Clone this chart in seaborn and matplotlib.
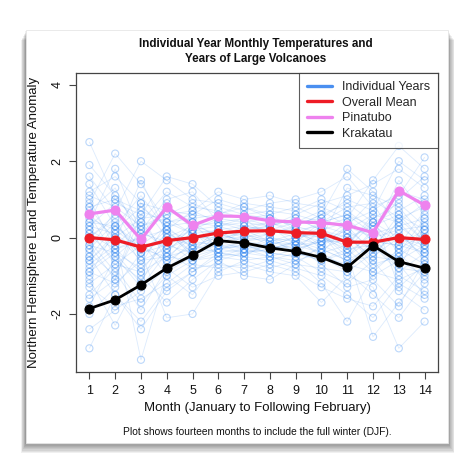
import numpy as np
import pandas as pd
import seaborn as sns
import matplotlib
matplotlib.use('Agg')
import matplotlib.pyplot as plt
import matplotlib.patches as mpatches
from matplotlib.lines import Line2D

months = list(range(1, 15))

# anomaly estimates for a sample of individual years (read roughly off the cloud)
individual_years = [
    [-0.9, -1.2, -0.6, -0.5, -0.3, -0.2, -0.3, -0.2, -0.4, -0.5, -0.7, -0.9, -1.1, -0.8],
    [0.5, 0.2, 0.8, 0.3, 0.4, 0.3, 0.4, 0.5, 0.3, 0.6, 0.9, 0.4, 0.7, 1.1],
    [-1.5, -0.8, -1.7, -1.0, -0.6, -0.5, -0.3, -0.4, -0.5, -0.9, -1.2, -0.6, -1.4, -1.9],
    [1.2, 1.6, 0.9, 0.7, 0.6, 0.5, 0.6, 0.7, 0.6, 0.9, 1.1, 1.4, 1.8, 1.3],
    [-0.3, 0.4, -0.5, 0.1, -0.2, 0.0, 0.1, -0.1, 0.0, -0.2, 0.3, -0.4, 0.2, -0.6],
    [-2.9, -1.5, -2.2, -1.3, -0.9, -0.4, -0.5, -0.6, -0.8, -1.0, -1.5, -2.1, -1.2, -1.6],
    [2.5, 1.0, 0.4, 1.2, 0.8, 0.7, 0.5, 0.6, 0.8, 0.5, 1.0, 0.7, 2.0, 1.5],
    [0.2, -0.7, -0.2, -0.6, 0.2, 0.1, -0.1, 0.0, -0.2, 0.1, -0.5, 0.2, -0.3, 0.1],
    [-1.1, -2.3, -1.0, -1.7, -1.1, -0.6, -0.4, -0.5, -0.7, -0.8, -0.9, -1.5, -2.1, -1.2],
    [0.9, 2.2, 1.4, 0.4, 0.5, 0.6, 0.8, 0.5, 0.4, 0.7, 0.3, 1.0, 0.5, 0.8],
    [-0.6, 0.0, -3.2, -0.9, -0.5, -0.3, -0.2, -0.3, -0.1, -0.4, -0.8, -0.2, -0.9, -0.4],
    [1.6, 0.7, 2.0, 1.5, 1.0, 0.9, 0.7, 0.9, 1.0, 1.2, 1.6, 0.8, 1.1, 2.1],
    [-2.0, -1.3, -0.4, -2.1, -2.0, -0.9, -0.6, -0.8, -0.6, -1.2, -2.2, -1.0, -0.6, -1.0],
    [0.0, 0.6, 0.2, -0.3, 0.0, 0.2, 0.3, 0.2, 0.1, 0.0, -0.2, 0.5, 0.9, 0.3],
    [-0.4, -1.0, 0.3, 0.5, 0.1, -0.1, 0.0, 0.1, 0.2, 0.3, 0.1, -0.7, -0.5, 0.0],
    [1.0, -0.3, -0.9, 0.0, 0.3, 0.4, 0.2, 0.3, 0.5, 0.2, -0.3, -0.2, 0.4, -0.3],
    [-1.8, -0.5, -1.3, -0.4, -0.8, -0.7, -0.8, -0.6, -0.4, -0.6, -0.4, -2.6, -1.7, -0.9],
    [0.7, 1.3, -0.1, 0.9, 0.2, 0.5, 0.4, 0.3, 0.6, 0.4, 0.6, 0.1, 1.5, 0.6],
    [-0.2, -0.4, -0.8, -0.2, -0.4, -0.3, -0.1, -0.2, -0.3, 0.2, 0.0, 0.3, -0.1, -0.4],
    [0.3, 0.9, 0.6, 1.6, 1.4, 0.8, 0.6, 0.5, 0.3, 0.6, 1.8, 1.2, 0.3, 0.5],
    [-1.3, -1.8, -1.6, -1.2, -0.7, -0.8, -0.7, -0.9, -1.0, -1.7, -1.0, -1.3, -2.9, -2.2],
    [1.4, 0.3, 1.1, 0.2, 0.7, 1.2, 1.0, 1.1, 0.9, 0.8, 0.5, 1.5, 2.4, 1.8],
    [-0.7, -0.2, 0.0, -0.7, -0.1, 0.2, -0.2, -0.4, -0.5, -0.3, -0.6, -0.5, 0.0, -0.2],
    [0.1, -0.6, -1.1, -0.3, 0.1, -0.2, 0.2, 0.4, 0.1, -0.1, 0.4, 0.0, -0.8, 0.4],
    [-2.4, -1.9, -1.4, -0.8, -1.3, -1.0, -0.9, -0.7, -0.9, -1.3, -1.6, -1.8, -1.0, -1.4],
    [0.6, 0.0, 0.5, 0.6, 0.9, 0.6, 0.9, 0.8, 0.7, 1.0, 0.7, 0.2, 1.0, 1.6],
    [-0.5, -1.5, -2.4, -1.4, -0.9, -0.5, -0.4, -0.3, -0.2, -0.7, -1.3, -1.1, -1.8, -0.6],
    [0.4, 1.8, 0.1, 0.8, 0.4, 0.0, 0.0, 0.2, 0.4, 0.5, 0.2, 0.6, 0.4, 0.9],
    [-1.0, 0.2, -0.3, -0.1, -0.6, -0.4, -0.5, -0.1, -0.3, -0.1, -0.1, -0.8, -0.4, -1.1],
    [0.8, -0.1, 1.5, 0.1, -0.4, 0.3, 0.5, 0.0, -0.1, 0.4, 0.8, 0.9, -0.2, 0.2],
    [-1.6, -1.1, 0.6, -0.6, -0.2, -0.1, -0.3, -0.5, -0.6, -0.4, -0.2, 0.6, -1.3, -0.7],
    [0.0, 0.5, -0.7, 0.4, 0.6, 1.0, 0.8, 0.6, 0.2, -0.3, 0.0, -0.3, 0.6, -0.1],
    [-0.8, -0.3, -0.1, -1.0, -1.5, -0.6, -1.0, -1.1, -0.7, -0.2, -0.5, 0.0, -0.7, -1.5],
    [1.9, 1.1, 0.2, 1.0, 1.2, 0.4, 0.3, 0.4, 0.2, 0.0, 1.3, 1.1, 0.8, 0.0],
    [-0.1, -0.9, -1.9, -0.8, -0.3, 0.1, 0.1, -0.2, 0.0, -0.5, -0.9, -0.4, 0.1, -0.5],
    [0.3, 0.1, -0.4, 0.2, -0.1, -0.2, -0.4, -0.3, -0.1, 0.3, 0.5, -0.1, -0.2, 0.7],
    [0.2, -0.2, 0.4, -0.4, 0.3, 0.1, -0.1, 0.1, 0.3, 0.1, -0.4, 0.1, 0.3, -0.2],
    [-0.5, 0.3, -0.2, 0.3, -0.3, -0.1, 0.2, -0.1, -0.2, -0.1, 0.2, -0.3, -0.5, 0.2],
    [0.6, -0.5, 0.1, -0.1, 0.2, 0.3, 0.1, 0.2, 0.0, 0.2, -0.1, 0.4, 0.0, -0.3],
    [-1.2, -0.7, -0.9, -0.5, -0.6, -0.3, -0.4, -0.2, -0.4, -0.6, -0.3, -0.9, -0.3, -0.7],
    [1.1, 0.8, 0.3, 0.6, 0.7, 0.4, 0.5, 0.3, 0.5, 0.2, 0.4, 0.7, 1.2, 1.0],
    [-0.2, -1.1, 0.9, 0.0, -0.2, -0.4, -0.3, 0.0, -0.4, 0.0, -0.3, 0.4, -0.4, 0.5],
    [0.4, 0.3, -0.3, -0.5, 0.0, 0.0, 0.3, 0.2, 0.2, -0.2, 0.1, -0.6, 0.5, -0.1],
    [-0.9, -0.4, -1.2, 0.2, -0.4, -0.2, -0.2, -0.4, -0.1, -0.3, -0.6, -0.2, -0.8, -0.9],
    [0.8, 1.0, 0.7, 0.4, 0.1, 0.2, 0.0, -0.1, 0.1, 0.4, 0.6, 0.3, 0.6, 0.2],
    [-0.6, 0.1, -0.6, -0.3, 0.4, -0.3, -0.2, -0.2, 0.0, 0.1, -0.7, -0.1, -0.2, -0.4],
    [0.1, -0.3, 0.0, 0.2, -0.5, 0.1, 0.2, 0.3, -0.2, -0.4, 0.3, 0.0, 0.2, 0.3],
    [-0.3, 0.7, -0.4, -0.2, 0.2, -0.5, -0.6, -0.5, -0.3, -0.1, 0.0, -0.5, -0.6, -0.2],
]
overall_mean = [0.0, -0.06, -0.25, -0.08, 0.0, 0.12, 0.17, 0.18, 0.13, 0.11, -0.12, -0.12, 0.0, -0.05]
pinatubo = [0.62, 0.72, -0.05, 0.80, 0.32, 0.57, 0.55, 0.44, 0.41, 0.39, 0.32, 0.13, 1.23, 0.85]
krakatau = [-1.86, -1.63, -1.24, -0.80, -0.46, -0.08, -0.14, -0.27, -0.36, -0.52, -0.78, -0.21, -0.63, -0.80]

rows = []
for i, vals in enumerate(individual_years):
    for m, v in zip(months, vals):
        rows.append({"year": i, "Month": m, "Anomaly": v})
df_years = pd.DataFrame(rows)

sns.set_theme(style="white")
plt.rcParams['font.family'] = ['Liberation Sans', 'DejaVu Sans']

fig = plt.figure(figsize=(4.74, 4.72), dpi=100)
fig.patch.set_facecolor("white")

# card with soft drop shadow
cx0, cx1 = 26 / 474, 448 / 474
cy0, cy1 = 1 - 443 / 472, 1 - 30 / 472
for k in range(8, 0, -1):
    d = k / 474
    fig.patches.append(mpatches.Rectangle((cx0 - d * 0.6, cy0 - d * 1.3), (cx1 - cx0) + d * 1.4, (cy1 - cy0),
                                          transform=fig.transFigure, facecolor="black", alpha=0.06,
                                          edgecolor="none", zorder=0))
fig.patches.append(mpatches.Rectangle((cx0, cy0), cx1 - cx0, cy1 - cy0, transform=fig.transFigure,
                                      facecolor="white", edgecolor="#e6e6e6", linewidth=0.6, zorder=1))

ax = fig.add_axes([76 / 474, 1 - 372 / 472, (438 - 76) / 474, (372 - 73) / 472])
ax.set_zorder(2)
ax.patch.set_alpha(0)

blue = "#3f8ef2"
sns.lineplot(data=df_years, x="Month", y="Anomaly", units="year", estimator=None,
             color=blue, alpha=0.18, linewidth=0.6, ax=ax)
sns.scatterplot(data=df_years, x="Month", y="Anomaly", marker="o", s=26,
                facecolor="none", edgecolor=blue, linewidth=0.8, alpha=0.35, ax=ax)

sns.lineplot(x=months, y=overall_mean, color="#ee1c25", linewidth=2.3, marker="o",
             markersize=6.5, markeredgecolor="#ee1c25", ax=ax, zorder=5)
sns.lineplot(x=months, y=pinatubo, color="#ee82ee", linewidth=2.3, marker="o",
             markersize=6.5, markeredgecolor="#ee82ee", ax=ax, zorder=5)
sns.lineplot(x=months, y=krakatau, color="black", linewidth=2.0, marker="o",
             markersize=6.5, markeredgecolor="black", ax=ax, zorder=6)

ax.set_xlim(0.48, 14.52)
ax.set_ylim(-3.52, 4.31)
ax.set_xticks(months)
ax.set_yticks([-2, 0, 2, 4])
ax.set_yticklabels(["-2", "0", "2", "4"], rotation=90, va="center")
ax.tick_params(axis="both", direction="out", length=5, width=0.8, color="#444444",
               labelsize=9, labelcolor="#111111", pad=4, left=True, bottom=True)
for s in ax.spines.values():
    s.set_color("#444444")
    s.set_linewidth(0.9)

ax.set_xlabel("Month (January to Following February)", fontsize=9.5, color="#111111", labelpad=4)
ax.set_ylabel("Northern Hemisphere Land Temperature Anomaly", fontsize=9.5, color="#111111", labelpad=8)

fig.text(0.542, 1 - 432 / 472, "Plot shows fourteen months to include the full winter (DJF).",
         ha="center", va="center", fontsize=7.4, color="#111111")
fig.text(0.540, 1 - 51.5 / 472, "Individual Year Monthly Temperatures and\nYears of Large Volcanoes",
         ha="center", va="center", fontsize=8.4, fontweight="bold", color="#111111", linespacing=1.3)

handles = [
    Line2D([], [], color="#4a8ff0", linewidth=2.4),
    Line2D([], [], color="#ee1c25", linewidth=2.4),
    Line2D([], [], color="#ee82ee", linewidth=2.4),
    Line2D([], [], color="black", linewidth=2.4),
]
labels = ["Individual Years", "Overall Mean", "Pinatubo", "Krakatau"]
leg = ax.legend(handles, labels, loc="upper right", borderaxespad=0, fontsize=9,
                frameon=True, fancybox=False, handlelength=2.0, handletextpad=0.8,
                labelspacing=0.28, borderpad=0.65)
leg.get_frame().set_edgecolor("#333333")
leg.get_frame().set_linewidth(0.8)
leg.set_zorder(10)

plt.savefig("out.png", dpi=100, facecolor="white")
plt.close()
